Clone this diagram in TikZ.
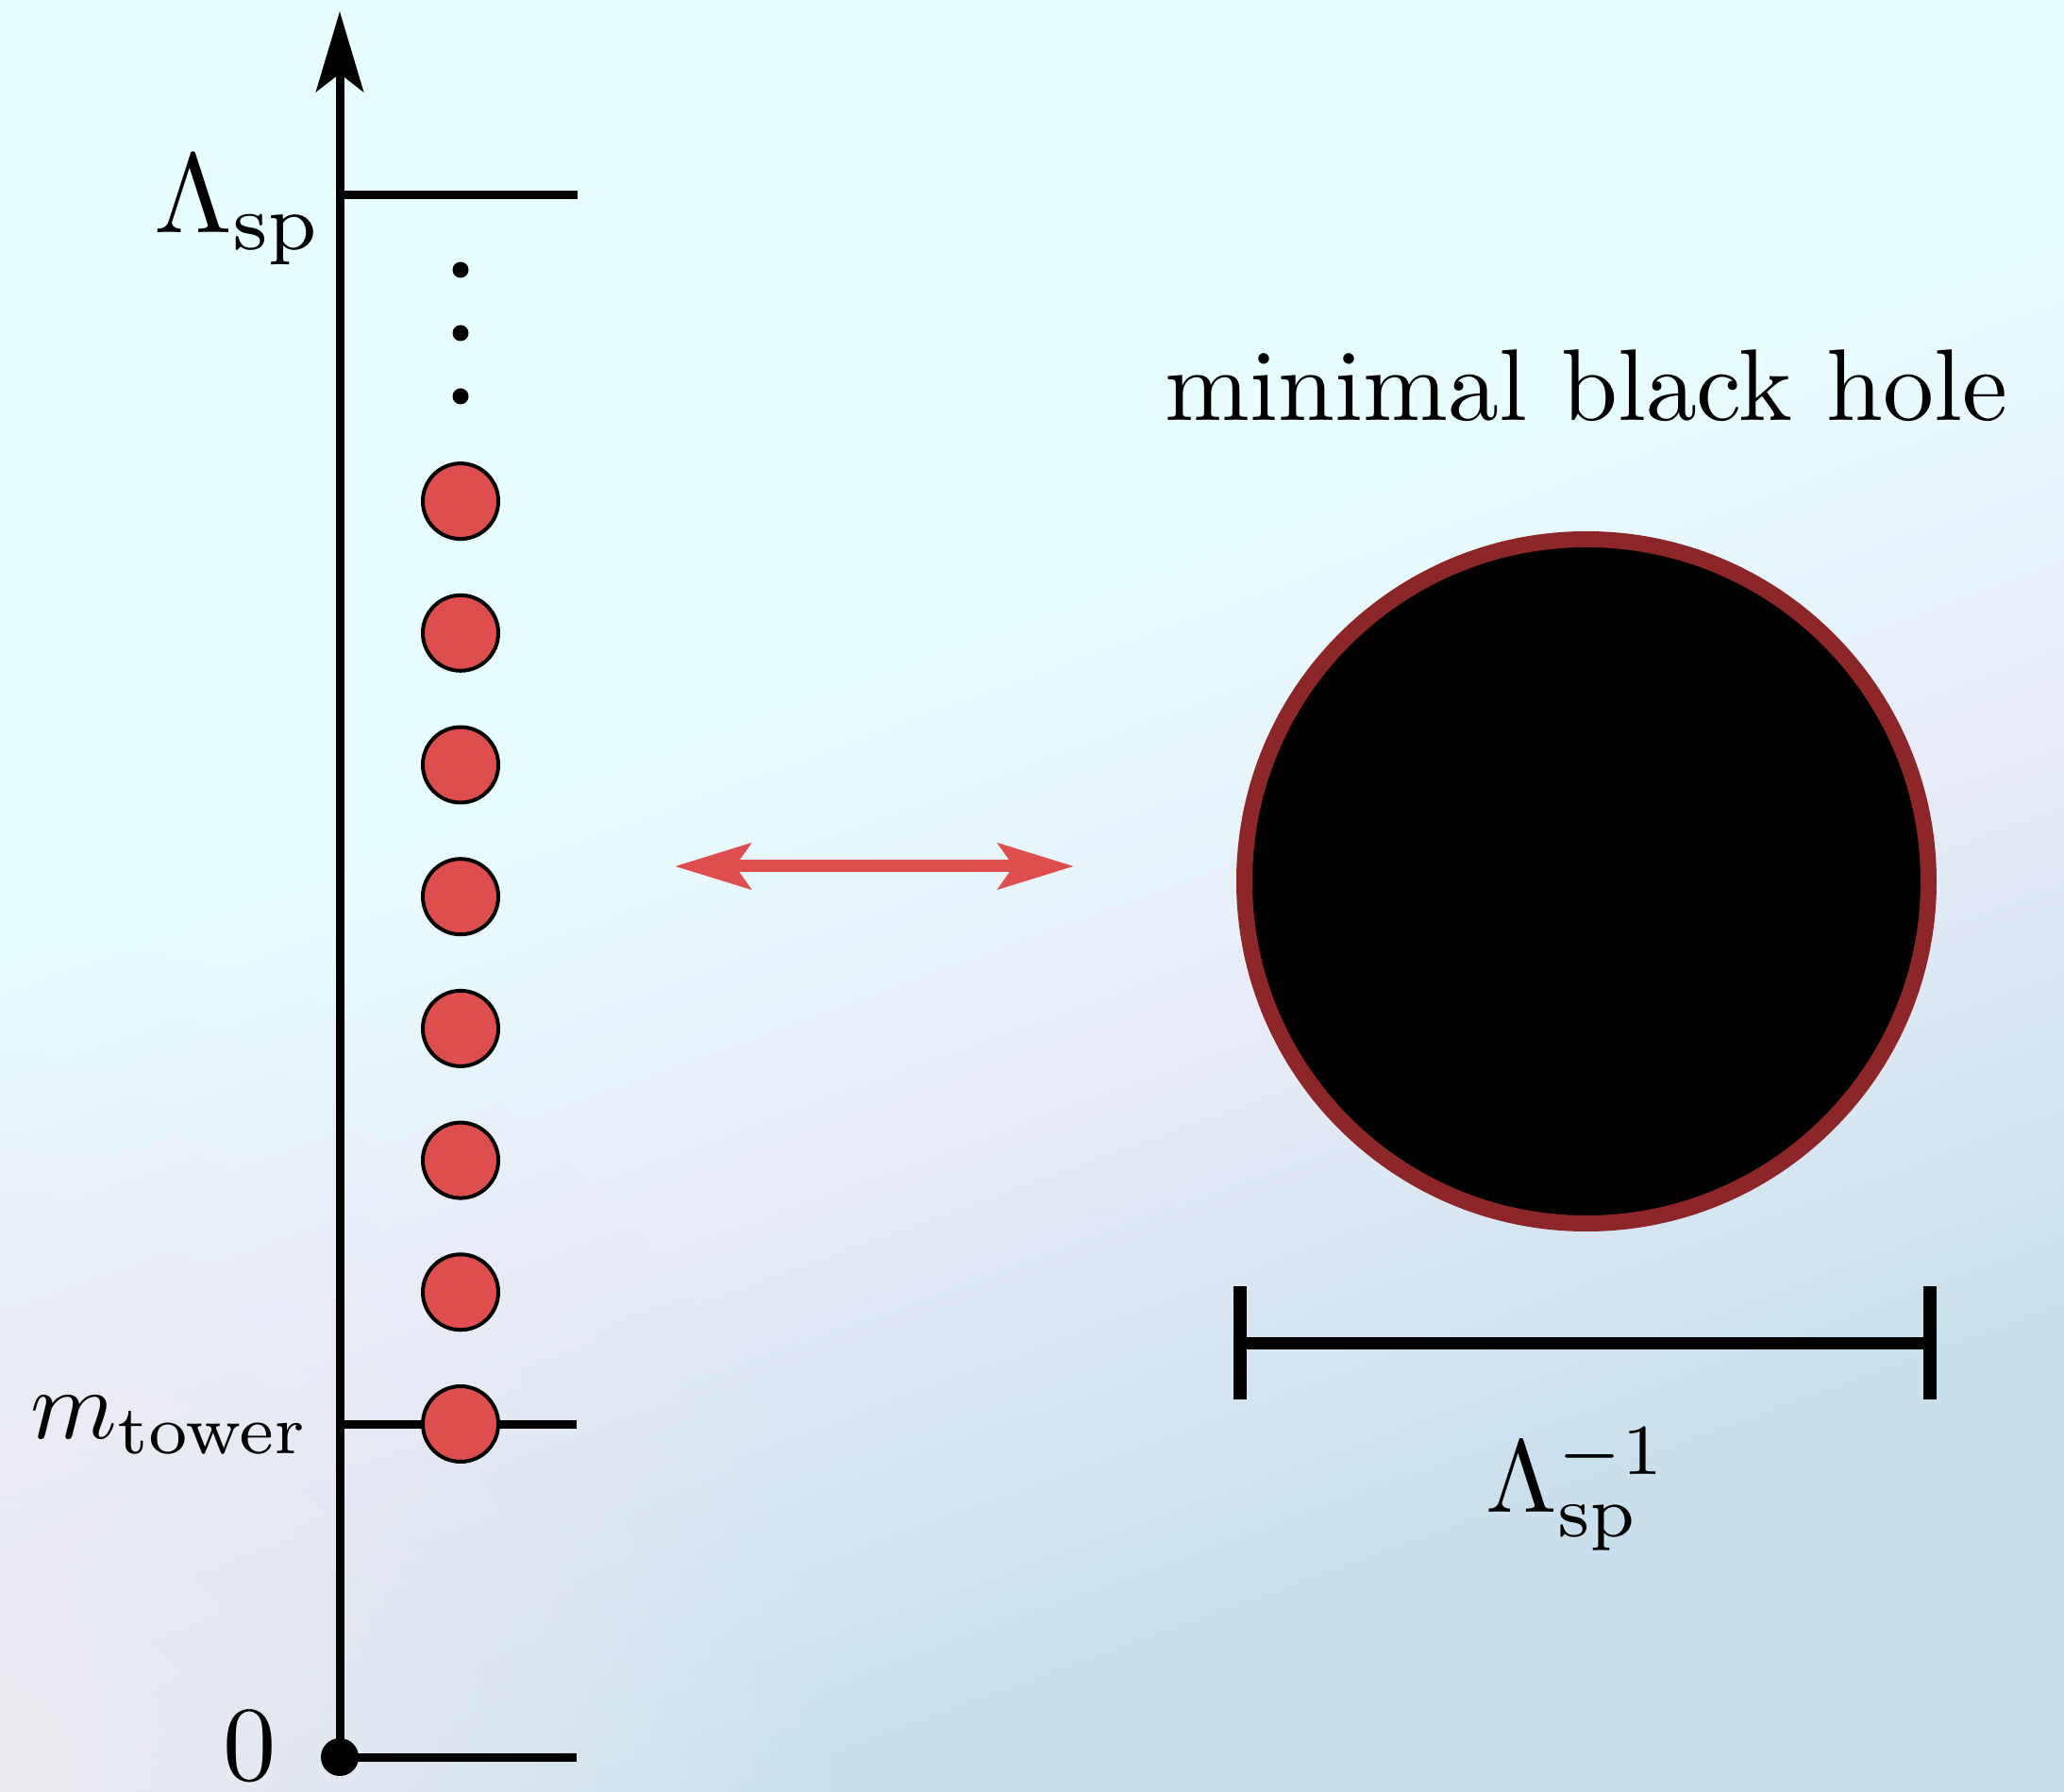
\documentclass[tikz,border=0pt]{standalone}
\usepackage{amsmath}
\usepackage{xcolor}
\usepackage{tikz}
\usetikzlibrary{arrows.meta,calc,positioning,shadings,fadings}

\definecolor{towerred}{RGB}{222,78,78}
\definecolor{bhrim}{RGB}{140,38,40}
\definecolor{bgtop}{RGB}{232,254,254}
\definecolor{bglav}{RGB}{232,236,248}
\definecolor{bggray}{RGB}{236,235,241}
\definecolor{bgright}{RGB}{201,224,236}
\pgfdeclareverticalshading{bgshade}{100bp}{color(0bp)=(bgright); color(30bp)=(bgright); color(45bp)=(bglav); color(58bp)=(bgtop); color(100bp)=(bgtop)}
\tikzfading[name=cornerfade, inner color=transparent!0, outer color=transparent!100]

\begin{document}
\begin{tikzpicture}[>=Latex]
    \tikzset{
      state/.style={circle, draw, line width=0.04cm, fill=towerred, minimum size=0.8cm, inner sep=0pt},
      dot/.style={circle, fill=black, minimum size=0.17cm, inner sep=0pt},
      tick/.style={line width=0.09cm},
      lbl/.style={inner sep=0pt},
      bigtip/.tip={Stealth[length=0.85cm, width=0.5cm, inset=0.19cm]},
      redtip/.tip={Stealth[length=0.8cm, width=0.48cm, inset=0.16cm]}
    }
    % background
    \useasboundingbox (0,0) rectangle (21.87,18.98);
    \begin{scope}
      \clip (0,0) rectangle (21.87,18.98);
      \shade[shading=bgshade, shading angle=20] (0,0) rectangle (21.87,18.98);
      \fill[bggray, path fading=cornerfade] (0,0) circle (9);
    \end{scope}
    % mass axis
    \coordinate (zero) at (3.6,0.36);
    \coordinate (top) at (3.6,18.86);
    \coordinate (zeroEnd) at (6.11,0.36);
    \coordinate (lsp) at (3.6,16.91);
    \coordinate (lspEnd) at (6.12,16.91);
    \coordinate (mt) at (3.6,3.89);
    \coordinate (mtEnd) at (6.11,3.89);
    \draw[tick, -{bigtip}] (zero) -- (top);
    \draw[tick] (zero) -- (zeroEnd);
    \draw[tick] (lsp) -- (lspEnd);
    \draw[tick] (mt) -- (mtEnd);
    \node[dot, minimum size=0.4cm] (z) at (zero) {};
    % tower states
    \foreach \i in {0,...,7} {
      \node[state] (c\i) at (4.88,{3.89+1.397*\i}) {};
    }
    \foreach \i/\y in {0/14.78,1/15.45,2/16.12} {
      \node[dot] (d\i) at (4.88,\y) {};
    }
    \node[lbl, scale=3.4, anchor=base east] (lsplbl) at (3.45,16.51) {$\Lambda_{\mathrm{sp}}$};
    \node[lbl, scale=2.97, anchor=base east] (mlbl) at (3.31,3.73) {$m_{\mathrm{tower}}$};
    \node[lbl, scale=3.2, anchor=base east] (zlbl) at (2.95,0.12) {$0$};
    % correspondence
    \coordinate (al) at (7.15,9.80);
    \coordinate (ar) at (11.38,9.80);
    \draw[towerred, line width=0.13cm, {redtip}-{redtip}] (al) -- (ar);
    % black hole
    \node[circle, draw=bhrim, line width=0.17cm, fill=black, minimum size=7.25cm, inner sep=0pt] (bh) at (16.81,9.64) {};
    \node[lbl, scale=3.07, anchor=base] (title) at (16.81,14.52) {minimal black hole};
    % size bar
    \coordinate (sl) at (13.14,4.75);
    \coordinate (sr) at (20.45,4.75);
    \draw[line width=0.13cm] (sl) -- (sr);
    \draw[line width=0.14cm] ($(sl)+(0,0.6)$) -- ($(sl)-(0,0.6)$);
    \draw[line width=0.14cm] ($(sr)+(0,0.6)$) -- ($(sr)-(0,0.6)$);
    \node[lbl, scale=3.1, anchor=base] (lenlbl) at (16.71,2.96) {$\Lambda_{\mathrm{sp}}^{-1}$};
  \end{tikzpicture}
\end{document}
